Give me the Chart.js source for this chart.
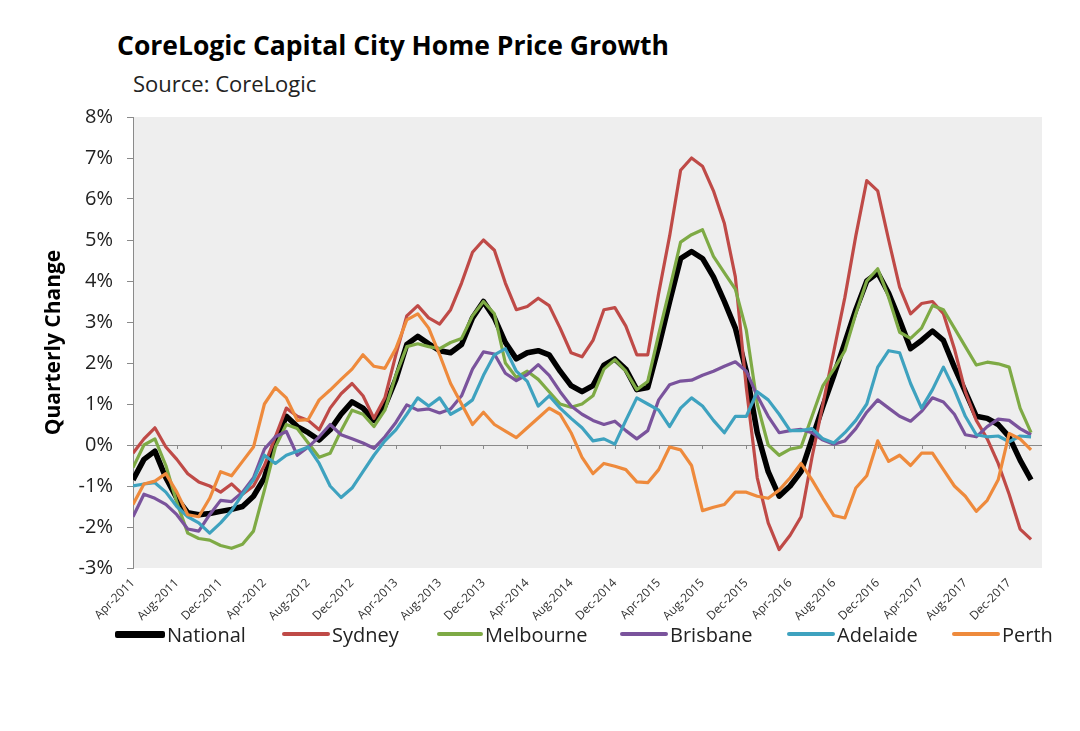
<!DOCTYPE html>
<html><head><meta charset="utf-8">
<script src="https://cdn.jsdelivr.net/npm/chart.js@4.4.1/dist/chart.umd.min.js"></script>
<style>
body{margin:0;background:#fff;width:1080px;height:731px;overflow:hidden;position:relative;font-family:'Open Sans',sans-serif;}
#title{position:absolute;left:117px;top:28px;font-weight:700;font-size:26.5px;line-height:34px;color:#000;white-space:nowrap;}
#source{position:absolute;left:133px;top:68px;font-size:22px;line-height:30px;color:#222;white-space:nowrap;}
#wrap{position:absolute;left:0;top:0;width:1080px;height:731px;}
.item{position:absolute;top:620px;height:28px;display:flex;align-items:center;font-size:20px;color:#222;white-space:nowrap;}
.sw{display:inline-block;margin-right:2px;}
</style></head>
<body>
<div id="title">CoreLogic Capital City Home Price Growth</div>
<div id="source">Source: CoreLogic</div>
<div id="wrap"><canvas id="c" width="1080" height="731"></canvas></div>
<div id="legend"></div>
<script>
const seriesNames = ['National','Sydney','Melbourne','Brisbane','Adelaide','Perth'];
const seriesColors = ['#000000','#bf4a47','#7eaa45','#7a539c','#3ea2bf','#ee8a3c'];
const tickLabels = ['Apr-2011','Aug-2011','Dec-2011','Apr-2012','Aug-2012','Dec-2012','Apr-2013','Aug-2013','Dec-2013','Apr-2014','Aug-2014','Dec-2014','Apr-2015','Aug-2015','Dec-2015','Apr-2016','Aug-2016','Dec-2016','Apr-2017','Aug-2017','Dec-2017'];

const national = [-0.85,-0.35,-0.15,-0.8,-1.3,-1.65,-1.7,-1.67,-1.62,-1.57,-1.5,-1.25,-0.8,0.1,0.7,0.45,0.3,0.12,0.37,0.75,1.05,0.9,0.6,0.95,1.6,2.45,2.65,2.47,2.3,2.25,2.45,3.1,3.5,3.1,2.5,2.1,2.25,2.3,2.2,1.8,1.45,1.3,1.45,1.95,2.1,1.85,1.35,1.4,2.4,3.5,4.55,4.72,4.55,4.1,3.5,2.85,1.8,0.3,-0.65,-1.25,-1.0,-0.65,0.15,0.95,1.7,2.5,3.3,4.0,4.2,3.7,3.05,2.35,2.55,2.78,2.55,1.9,1.3,0.7,0.65,0.5,0.2,-0.37,-0.85];
const sydney = [-0.2,0.15,0.42,-0.05,-0.35,-0.7,-0.9,-1.0,-1.15,-0.95,-1.2,-1.0,-0.5,0.2,0.9,0.7,0.6,0.37,0.9,1.25,1.5,1.2,0.65,1.15,2.2,3.15,3.4,3.1,2.95,3.3,3.95,4.7,5.0,4.75,3.95,3.3,3.38,3.58,3.4,2.85,2.25,2.15,2.55,3.3,3.35,2.9,2.2,2.2,3.7,5.1,6.7,7.0,6.8,6.2,5.4,4.1,1.4,-0.8,-1.9,-2.55,-2.2,-1.75,-0.3,1.0,2.3,3.6,5.1,6.45,6.2,5.0,3.85,3.2,3.45,3.5,3.2,2.35,1.3,0.6,0.15,-0.45,-1.2,-2.05,-2.3];
const melbourne = [-0.55,0.0,0.15,-0.5,-1.4,-2.15,-2.28,-2.32,-2.45,-2.52,-2.42,-2.1,-1.1,-0.05,0.5,0.4,0.05,-0.3,-0.2,0.35,0.85,0.75,0.45,0.85,1.7,2.4,2.47,2.4,2.35,2.5,2.6,3.15,3.5,3.2,2.0,1.65,1.8,1.6,1.3,1.0,0.92,1.0,1.2,1.85,2.08,1.8,1.35,1.55,2.7,3.8,4.95,5.13,5.25,4.6,4.2,3.8,2.8,1.0,0.0,-0.25,-0.1,-0.05,0.7,1.45,1.85,2.3,3.2,4.0,4.3,3.6,2.75,2.6,2.85,3.4,3.3,2.85,2.4,1.95,2.02,1.98,1.9,0.9,0.3];
const brisbane = [-1.75,-1.2,-1.3,-1.45,-1.7,-2.05,-2.1,-1.7,-1.35,-1.38,-1.15,-0.8,-0.1,0.2,0.33,-0.25,-0.05,0.2,0.5,0.25,0.15,0.05,-0.08,0.2,0.55,0.98,0.85,0.88,0.78,0.88,1.2,1.85,2.27,2.22,1.75,1.57,1.72,1.96,1.7,1.3,0.95,0.75,0.6,0.5,0.58,0.35,0.15,0.35,1.1,1.47,1.56,1.58,1.7,1.8,1.92,2.03,1.8,1.2,0.7,0.3,0.35,0.38,0.3,0.12,0.02,0.1,0.4,0.8,1.1,0.9,0.7,0.58,0.82,1.15,1.05,0.75,0.25,0.2,0.45,0.63,0.6,0.4,0.25];
const adelaide = [-1.0,-0.95,-0.92,-1.15,-1.5,-1.75,-1.9,-2.15,-1.9,-1.6,-1.2,-0.85,-0.25,-0.45,-0.25,-0.15,-0.05,-0.45,-1.0,-1.28,-1.05,-0.65,-0.25,0.1,0.37,0.75,1.15,0.95,1.15,0.75,0.9,1.1,1.7,2.2,2.35,1.8,1.55,0.95,1.2,0.9,0.65,0.42,0.1,0.15,0.02,0.6,1.15,1.0,0.85,0.45,0.9,1.15,0.95,0.6,0.3,0.7,0.7,1.3,1.1,0.75,0.35,0.35,0.4,0.15,0.05,0.3,0.6,1.0,1.9,2.3,2.25,1.5,0.9,1.35,1.9,1.35,0.7,0.25,0.2,0.22,0.08,0.22,0.2];
const perth = [-1.45,-0.95,-0.88,-0.7,-1.15,-1.7,-1.75,-1.3,-0.65,-0.75,-0.4,-0.05,1.0,1.4,1.15,0.6,0.62,1.1,1.34,1.6,1.85,2.2,1.92,1.87,2.35,3.05,3.2,2.85,2.2,1.5,1.0,0.5,0.8,0.5,0.34,0.18,0.42,0.66,0.9,0.75,0.3,-0.3,-0.7,-0.45,-0.52,-0.6,-0.9,-0.92,-0.6,-0.05,-0.12,-0.5,-1.6,-1.52,-1.45,-1.15,-1.15,-1.25,-1.3,-1.1,-0.8,-0.45,-0.85,-1.3,-1.72,-1.78,-1.05,-0.75,0.1,-0.4,-0.25,-0.5,-0.2,-0.2,-0.6,-1.0,-1.25,-1.62,-1.35,-0.85,0.28,0.15,-0.12];

const seriesValues = [national, sydney, melbourne, brisbane, adelaide, perth];
const seriesWidths = [5.5, 3.2, 3.2, 3.2, 3.2, 3.2];

const datasets = seriesValues.map((vals, s) => ({
  label: seriesNames[s],
  data: vals.map((v, i) => ({x: i, y: v})),
  borderColor: seriesColors[s],
  backgroundColor: seriesColors[s],
  borderWidth: seriesWidths[s],
  pointRadius: 0,
  tension: 0,
  borderJoinStyle: 'round',
  order: 6 - s
}));

const bgPlugin = {
  id: 'bg',
  beforeDraw(chart) {
    const {ctx, chartArea: a} = chart;
    ctx.save();
    ctx.fillStyle = '#eeeeee';
    ctx.fillRect(a.left, a.top, a.right - a.left, a.bottom - a.top);
    ctx.restore();
  },
  beforeDatasetsDraw(chart) {
    const {ctx} = chart;
    const xs = chart.scales.x, ys = chart.scales.y;
    const y0 = ys.getPixelForValue(0);
    ctx.save();
    ctx.strokeStyle = '#8a8a8a';
    ctx.lineWidth = 1;
    for (const t of xs.ticks) {
      if (t.value % 4 === 0 && t.value > 0) {
        const px = Math.round(xs.getPixelForValue(t.value)) + 0.5;
        ctx.beginPath();
        ctx.moveTo(px, y0);
        ctx.lineTo(px, y0 + 4);
        ctx.stroke();
      }
    }
    ctx.restore();
  }
};

new Chart(document.getElementById('c'), {
  type: 'line',
  data: {datasets},
  plugins: [bgPlugin],
  options: {
    responsive: false,
    animation: false,
    layout: {padding: {top: 117, left: 30, right: 38, bottom: 103}},
    plugins: {legend: {display: false}, tooltip: {enabled: false}},
    scales: {
      x: {
        type: 'linear',
        min: 0,
        max: 83,
        border: {display: false},
        grid: {display: false, drawTicks: false},
        afterFit(scale) { scale.height = 60; },
        ticks: {
          stepSize: 4,
          includeBounds: false,
          autoSkip: false,
          minRotation: 45,
          maxRotation: 45,
          padding: 8,
          color: '#333',
          font: {family: 'Open Sans', size: 12},
          callback: (v) => (v % 4 === 0 ? tickLabels[v / 4] : '')
        }
      },
      y: {
        min: -3,
        max: 8,
        afterFit(scale) { scale.width = 103; },
        border: {display: true, color: '#8a8a8a', width: 1},
        grid: {
          drawOnChartArea: true,
          color: (c) => (c.tick && c.tick.value === 0 ? '#8a8a8a' : 'rgba(0,0,0,0)'),
          tickColor: '#8a8a8a',
          tickLength: 6
        },
        ticks: {
          stepSize: 1,
          padding: 14,
          color: '#222',
          font: {family: 'Open Sans', size: 20},
          callback: (v) => v + '%'
        },
        title: {
          display: true,
          text: 'Quarterly Change',
          color: '#000',
          font: {family: 'Open Sans', size: 21, weight: 'bold'},
          padding: {top: 11, bottom: 0}
        }
      }
    }
  }
});

// legend (HTML)
const legendLefts = [115, 282, 437, 620, 787, 952];
const swatchWidths = [50, 48, 46, 48, 48, 48];
const swatchHeights = [7, 4, 4, 4, 4, 4];
const lg = document.getElementById('legend');
seriesNames.forEach((name, s) => {
  const it = document.createElement('div');
  it.className = 'item';
  it.style.left = legendLefts[s] + 'px';
  const sw = document.createElement('span');
  sw.className = 'sw';
  sw.style.width = swatchWidths[s] + 'px';
  sw.style.height = swatchHeights[s] + 'px';
  sw.style.background = seriesColors[s];
  sw.style.borderRadius = '2px';
  it.appendChild(sw);
  const tx = document.createElement('span');
  tx.textContent = name;
  it.appendChild(tx);
  lg.appendChild(it);
});
</script>
</body></html>
